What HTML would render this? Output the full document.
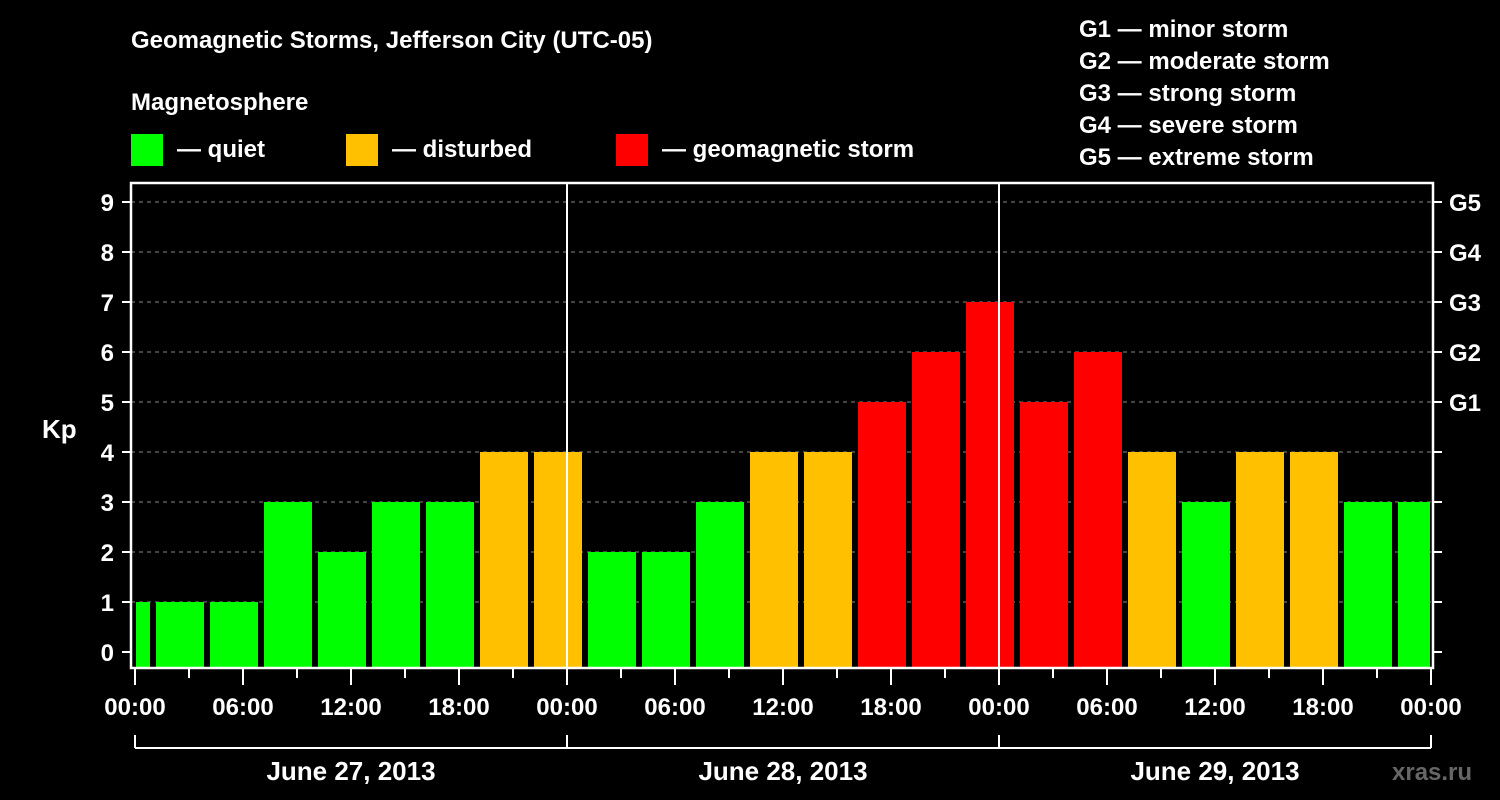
<!DOCTYPE html>
<html><head><meta charset="utf-8"><style>
html,body{margin:0;padding:0;background:#000;}
svg{display:block;font-family:"Liberation Sans",sans-serif;font-weight:bold;}
</style></head><body>
<svg id="chart" width="1500" height="800" viewBox="0 0 1500 800">
<rect width="1500" height="800" fill="#000"/>
<text x="131" y="48" fill="#fff" font-size="24">Geomagnetic Storms, Jefferson City (UTC-05)</text>
<text x="131" y="110" fill="#fff" font-size="24">Magnetosphere</text>
<g><rect x="131" y="134" width="32" height="32" fill="#00ff00"/><text x="177" y="157" fill="#fff" font-size="24">— quiet</text></g>
<g><rect x="346" y="134" width="32" height="32" fill="#ffc000"/><text x="392" y="157" fill="#fff" font-size="24">— disturbed</text></g>
<g><rect x="616" y="134" width="32" height="32" fill="#ff0000"/><text x="662" y="157" fill="#fff" font-size="24">— geomagnetic storm</text></g>
<g fill="#fff" font-size="24">
<text x="1079" y="37">G1 — minor storm</text>
<text x="1079" y="69">G2 — moderate storm</text>
<text x="1079" y="101">G3 — strong storm</text>
<text x="1079" y="133">G4 — severe storm</text>
<text x="1079" y="165">G5 — extreme storm</text>
</g>
<text x="42" y="438" fill="#fff" font-size="26">Kp</text>
<text x="1392" y="780" fill="#666" font-size="24">xras.ru</text>
<g id="grid"></g><g id="bars"></g><g id="axes"></g>
</svg>
<script>
const barStartHours = [-2,1,4,7,10,13,16,19,22,25,28,31,34,37,40,43,46,49,52,55,58,61,64,67,70];
const kpValues = [1,1,1,3,2,3,3,4,4,2,2,3,4,4,5,6,7,5,6,4,3,4,4,3,3];
const yTicks = [0,1,2,3,4,5,6,7,8,9];
const gLabels = ["G1","G2","G3","G4","G5"];
const xTickLabels = ["00:00","06:00","12:00","18:00","00:00","06:00","12:00","18:00","00:00","06:00","12:00","18:00","00:00"];
const dayLabels = ["June 27, 2013","June 28, 2013","June 29, 2013"];

const NS="http://www.w3.org/2000/svg";
const L=131,R=1433,T=183,B=668,X0=135,PXH=18;
const xs=h=>X0+h*PXH, ys=v=>652-v*50;
function mk(tag,attrs,parent,txt){const e=document.createElementNS(NS,tag);for(const k in attrs)e.setAttribute(k,attrs[k]);if(txt!==undefined)e.textContent=txt;parent.appendChild(e);return e;}
const grid=document.getElementById('grid'),bars=document.getElementById('bars'),axes=document.getElementById('axes');
yTicks.forEach(v=>{if(v===0)return;const g=mk('line',{x1:L,x2:R,y1:ys(v),y2:ys(v),stroke:'#888','stroke-dasharray':'4,4','stroke-width':1},grid);

});
barStartHours.forEach((h,i)=>{const v=kpValues[i];let x1=Math.max(xs(h)+3,L+5),x2=Math.min(xs(h+3)-3,R-3);
const c=v>=5?'#ff0000':(v>=4?'#ffc000':'#00ff00');
const r=mk('rect',{x:x1,y:ys(v),width:x2-x1,height:B-ys(v),fill:c},bars);

});
[xs(24),xs(48)].forEach(x=>{const l=mk('line',{x1:x,x2:x,y1:T,y2:B,stroke:'#fff','stroke-width':2},axes);

});
const fr=mk('rect',{x:L,y:T,width:R-L,height:B-T,fill:'none',stroke:'#fff','stroke-width':2.5},axes);


yTicks.forEach(v=>{mk('line',{x1:122,x2:L,y1:ys(v),y2:ys(v),stroke:'#fff','stroke-width':2},axes);
mk('line',{x1:R,x2:1442,y1:ys(v),y2:ys(v),stroke:'#fff','stroke-width':2},axes);
const t=mk('text',{x:114,y:ys(v)+9,fill:'#fff','font-size':24,'text-anchor':'end'},axes,String(v));

});
gLabels.forEach((g,i)=>{const t=mk('text',{x:1449,y:ys(5+i)+9,fill:'#fff','font-size':24},axes,g);

});
for(let h=0;h<=72;h+=3){const major=h%6===0;mk('line',{x1:xs(h),x2:xs(h),y1:B,y2:major?685:678,stroke:'#fff','stroke-width':2},axes);}
xTickLabels.forEach((s,i)=>{const t=mk('text',{x:xs(i*6),y:715,fill:'#fff','font-size':24,'text-anchor':'middle'},axes,s);

});
mk('line',{x1:xs(0),x2:xs(72),y1:748,y2:748,stroke:'#fff','stroke-width':2},axes);
for(let d=0;d<=3;d++)mk('line',{x1:xs(d*24),x2:xs(d*24),y1:735,y2:748,stroke:'#fff','stroke-width':2},axes);
dayLabels.forEach((s,i)=>{const t=mk('text',{x:xs(i*24+12),y:780,fill:'#fff','font-size':26,'text-anchor':'middle'},axes,s);

});
</script>
</body></html>
